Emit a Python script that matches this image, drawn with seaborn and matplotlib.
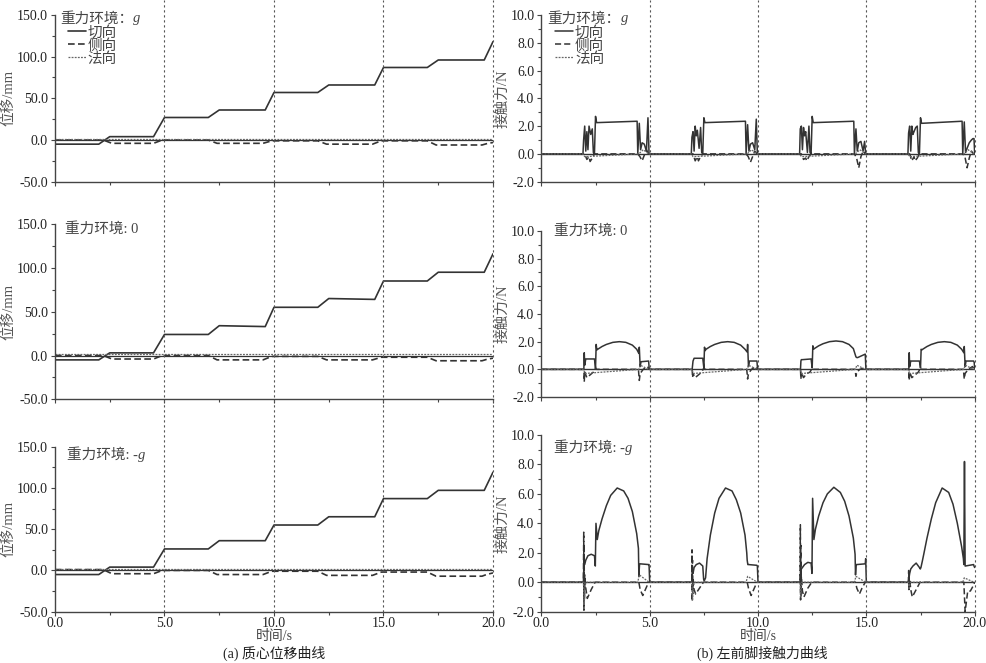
import matplotlib
matplotlib.use("Agg")
import matplotlib.pyplot as plt
import matplotlib.transforms as mtransforms
from matplotlib.lines import Line2D
from matplotlib.ticker import MultipleLocator, FormatStrFormatter
import pandas as pd
import seaborn as sns

# ---------------- DATA ----------------
# left column: centre-of-mass displacement (mm)
disp_t = [0, 2.0, 2.5, 4.5, 5.0, 7.0, 7.5, 9.6, 10.0, 12.0, 12.5, 14.6, 15.0, 17.0, 17.5, 19.6, 20.0]
tan_g = [-5, -5, 4, 4, 27, 27, 36, 36, 57, 57, 66, 66, 87, 87, 96, 96, 118]
tan_0 = [-5, -5, 3, 3, 24, 24, 34, 33, 55, 55, 65, 64, 85, 85, 95, 95, 116]
tan_mg = [-5, -5, 4, 4, 26, 26, 36, 36, 55, 55, 65, 65, 87, 87, 97, 97, 119]

side_t = [0, 2.2, 2.6, 4.5, 4.7, 4.9, 7.0, 7.2, 7.4, 9.5, 9.7, 9.9, 12.0, 12.2, 12.4,
          14.5, 14.7, 14.9, 17.0, 17.2, 17.4, 19.5, 19.7, 20.0]
side_g = [0, 0, -4, -4, -2, 0, 0, -2, -4, -4, -2.5, -1, -1, -3, -5, -5, -3, -1, -1, -3.5, -6, -6, -4.5, -3]
side_0 = [0, 0, -4, -4, -2, 0, 0, -2.5, -5, -5, -3, -1, -1, -3, -5, -5, -3.5, -2, -2, -4, -6, -6, -4.5, -3]
side_mg = [1, 1, -4, -4, -2, 0, 0, -2.5, -5, -5, -3, -1, -1, -3.5, -6, -6, -4, -2, -2, -4.5, -7, -7, -5, -3]

norm_t = [0, 20]
norm_v = [1.5, 1.5]

# right column: left fore-foot contact force (N), one list per gait cycle
cycle_start = [0, 5, 10, 15]

# gravity g
fg_tan_off = [1.92, 1.95, 2.00, 2.05, 2.10, 2.15, 2.20, 2.28, 2.35, 2.40, 2.45, 2.50, 2.55,
              4.42, 4.45, 4.52, 4.58, 4.65, 4.75, 4.85, 4.92, 4.97]
fg_tan = [
    [0, 1.0, 2.0, 0.2, 1.6, 0.3, 2.0, 1.4, 1.8, 0.1, 0.0, 2.7, 2.25, 2.35, 0.0, 2.2, 0.3, 0.8, 0.7, 0.2, 2.6, 0.0],
    [0, 1.2, 1.6, 0.2, 2.0, 1.3, 1.7, 0.4, 1.9, 0.1, 0.0, 2.6, 2.25, 2.35, 0.0, 2.1, 0.2, 0.7, 0.8, 0.3, 2.5, 0.0],
    [0, 1.8, 2.0, 0.3, 1.9, 1.3, 1.6, 0.1, 2.0, 0.1, 0.0, 2.7, 2.25, 2.35, 0.0, 1.8, 0.2, 0.8, 0.9, 0.2, 0.9, 0.0],
    [0, 1.5, 2.0, 0.2, 2.0, 1.4, 1.6, 1.9, 2.0, 0.1, 0.0, 2.6, 2.2, 2.35, 0.0, 2.3, 0.1, 0.4, 0.8, 1.0, 1.1, 1.1],
]
fg_side_off = [1.92, 2.00, 2.10, 2.20, 2.25, 2.35, 2.45, 4.45, 4.55, 4.65, 4.75, 4.85, 4.95]
fg_side = [
    [0, 0, -0.4, -0.2, -0.55, -0.3, 0, 0, -0.2, -0.5, -0.1, 0.3, 0],
    [0, 0, -0.5, -0.2, -0.5, -0.2, 0, 0, -0.2, -0.6, -0.2, 0.2, 0],
    [0, 0, -0.4, -0.3, -0.5, -0.2, 0, 0, -0.3, -1.0, -0.2, 0.2, 0],
    [0, 0, -0.5, -0.2, -0.5, -0.3, 0, 0, -0.2, -1.0, -0.3, 0.2, 0],
]
fg_norm_off = [1.92, 2.00, 4.50, 4.70, 4.95]
fg_norm = [[0, -0.2, 0, 0.3, 0]] * 4

# gravity 0
f0_tan_off = [1.96, 1.98, 2.00, 2.05, 2.45, 2.50, 2.53, 2.56, 2.60, 2.80, 3.00, 3.30, 3.60, 3.90,
              4.20, 4.40, 4.50, 4.52, 4.56, 4.60, 4.95, 4.98]
f0_tan = [
    [0, 1.2, 0.3, 0.75, 0.75, 0.1, 1.8, 1.4, 1.45, 1.65, 1.8, 1.95, 2.0, 1.95, 1.75, 1.45, 1.15, 1.6, 0.2, 0.55, 0.6, 0],
    [0, 0.3, 0.6, 0.8, 0.8, 0.1, 1.6, 1.35, 1.45, 1.65, 1.8, 1.95, 2.0, 1.95, 1.75, 1.45, 1.25, 1.8, 0.2, 0.6, 0.6, 0],
    [0, 0.6, 0.7, 0.7, 0.75, 0.1, 1.7, 1.45, 1.5, 1.7, 1.85, 2.0, 2.05, 2.0, 1.8, 1.5, 1.0, 0.9, 0.85, 0.85, 1.1, 0],
    [0, 1.2, 0.2, 0.6, 0.6, 0.1, 1.45, 1.4, 1.45, 1.65, 1.8, 1.95, 2.0, 1.95, 1.75, 1.45, 1.2, 1.65, 0.2, 0.6, 0.6, 0.5],
]
f0_side_off = [1.96, 1.98, 2.00, 2.10, 2.25, 2.40, 2.50, 2.55, 4.48, 4.52, 4.56, 4.70, 4.90, 4.98]
f0_side = [
    [0, -0.9, -0.2, -0.6, -0.4, -0.2, 0.1, 0, 0, -0.8, -0.3, 0.0, 0.2, 0],
    [0, -0.6, -0.3, -0.6, -0.4, -0.2, 0.1, 0, 0, -0.7, -0.3, 0.0, 0.2, 0],
    [0, -0.7, -0.2, -0.6, -0.3, -0.2, 0.1, 0, 0, -0.5, -0.2, 0.0, 0.1, 0],
    [0, -0.8, -0.2, -0.6, -0.4, -0.2, 0.1, 0, 0, -0.7, -0.3, 0.0, 0.2, 0],
]
f0_norm_off = [1.96, 2.00, 4.50, 4.56, 4.95]
f0_norm = [[0, -0.3, 0, 0.3, 0]] * 4

# gravity -g
fm_tan_off = [1.94, 1.97, 2.00, 2.05, 2.15, 2.30, 2.45, 2.49, 2.52, 2.58, 2.65, 2.80, 3.00, 3.20,
              3.50, 3.80, 4.00, 4.20, 4.40, 4.48, 4.50, 4.53, 4.56, 4.95, 4.97, 5.00]
fm_tan = [
    [0, 1.6, 1.2, 1.5, 1.8, 1.9, 1.8, 1.1, 4.0, 2.9, 3.5, 4.3, 5.2, 5.9, 6.4, 6.2, 5.7, 4.8, 3.3, 2.3, 0.4, 1.2, 1.25, 1.2, 1.2, 0],
    [0, 0.8, 0.6, 1.0, 1.2, 1.3, 1.1, 0.2, 0.1, 0.3, 1.6, 3.2, 4.7, 5.7, 6.4, 6.2, 5.6, 4.7, 3.2, 2.0, 1.5, 1.2, 1.2, 1.15, 1.1, 0],
    [0, 0.5, 0.9, 1.0, 1.2, 1.35, 1.3, 0.6, 5.7, 2.9, 3.6, 4.5, 5.4, 6.0, 6.45, 6.1, 5.5, 4.5, 3.0, 1.9, 0.5, 1.2, 1.2, 1.25, 1.6, 0],
    [0, 0.3, 0.6, 0.9, 1.1, 1.3, 1.0, 0.9, 1.0, 1.4, 1.9, 3.0, 4.3, 5.4, 6.4, 6.1, 5.3, 4.0, 2.4, 1.6, 1.2, 8.2, 1.1, 1.2, 1.1, 1.0],
]
fm_side_off = [1.94, 1.955, 1.965, 1.975, 1.985, 2.00, 2.05, 2.12, 2.30, 2.48, 2.50,
               4.50, 4.56, 4.68, 4.80, 4.95, 5.00]
fm_side = [
    [0, 3.4, -1.9, 2.6, -1.2, 0.5, -0.4, -1.1, -0.5, 0.0, 0, 0, -0.5, -0.9, -0.5, 0, 0],
    [0, 2.2, -1.3, 1.5, -0.8, 0.3, -0.5, -0.8, -0.4, 0.0, 0, 0, -0.4, -0.9, -0.5, 0, 0],
    [0, 3.9, -1.2, 2.5, -0.9, 0.4, -0.6, -1.0, -0.4, 0.0, 0, 0, -0.4, -0.8, -0.4, 0, 0],
    [0, 0.8, -0.5, 0.6, -0.4, 0.2, -0.5, -1.0, -0.5, 0.0, 0, 0, -2.0, -0.6, -0.6, -0.2, 0],
]
fm_norm_off = [1.94, 1.98, 2.02, 4.45, 4.52, 4.97]
fm_norm = [
    [0, -1.5, 0, 0, 0.5, 0],
    [0, -1.2, 0, 0, 0.4, 0],
    [0, -1.0, 0, 0, 0.4, 0],
    [0, -0.5, 0, 0, 0.3, 0],
]

# (plain part, italic part) of each row's gravity caption
row_titles = [("重力环境：", "g"), ("重力环境: 0", ""), ("重力环境: -", "g")]
series_names = ["切向", "侧向", "法向"]


def build(offsets, cycles):
    t, v = [0.0], [0.0]
    for s, vals in zip(cycle_start, cycles):
        t += [s + o for o in offsets]
        v += list(vals)
    if t[-1] < 20:
        t.append(20.0)
        v.append(0.0)
    return pd.DataFrame({"t": t, "v": v})


# ---------------- STYLE ----------------
sns.set_theme(style="white")
plt.rcParams["font.family"] = ["Liberation Serif", "Noto Sans CJK SC", "DejaVu Sans"]
plt.rcParams["axes.unicode_minus"] = False

LC = "#333333"
TC = "#444444"
DASH = (0, (4, 2))
DOT = (0, (1.5, 1))

fig = plt.figure(figsize=(9.87, 6.63), dpi=100)

left_pos = [[0.0557, 0.726, 0.4438, 0.2514], [0.0557, 0.3977, 0.4438, 0.2644], [0.0557, 0.0774, 0.4438, 0.2490]]
right_pos = [[0.5485, 0.726, 0.4390, 0.2514], [0.5485, 0.4012, 0.4390, 0.2504], [0.5485, 0.0774, 0.4390, 0.2665]]

# caption placement per row: (x, baseline y) in axes fraction
left_cap = [(0.012, 0.955), (0.023, 0.948), (0.027, 0.925)]
right_cap = [(0.014, 0.955), (0.03, 0.975), (0.03, 0.905)]

disp_data = [(tan_g, side_g), (tan_0, side_0), (tan_mg, side_mg)]
force_data = [
    (build(fg_tan_off, fg_tan), build(fg_side_off, fg_side), build(fg_norm_off, fg_norm)),
    (build(f0_tan_off, f0_tan), build(f0_side_off, f0_side), build(f0_norm_off, f0_norm)),
    (build(fm_tan_off, fm_tan), build(fm_side_off, fm_side), build(fm_norm_off, fm_norm)),
]


def style_axes(ax, ymin, ymax, ymaj, show_x):
    ax.set_xlim(0, 20)
    ax.set_ylim(ymin, ymax)
    ax.xaxis.set_major_locator(MultipleLocator(5))
    ax.xaxis.set_minor_locator(MultipleLocator(2.5))
    ax.yaxis.set_major_locator(MultipleLocator(ymaj))
    ax.yaxis.set_minor_locator(MultipleLocator(ymaj / 2))
    ax.xaxis.set_major_formatter(FormatStrFormatter("%.1f"))
    ax.yaxis.set_major_formatter(FormatStrFormatter("%.1f"))
    for s in ["top", "right"]:
        ax.spines[s].set_visible(False)
    for s in ["left", "bottom"]:
        ax.spines[s].set_color(TC)
        ax.spines[s].set_linewidth(1.0)
    ax.tick_params(which="both", direction="out", color=TC, width=0.8,
                   labelsize=10, labelcolor="#222222", pad=2, left=True, bottom=True)
    ax.tick_params(axis="x", pad=1)
    ax.tick_params(which="major", length=3)
    ax.tick_params(which="minor", length=2.5)
    if not show_x:
        ax.tick_params(labelbottom=False)
    ax.set_xlabel("")
    ax.set_ylabel("")
    ax.grid(False)


def caption(ax, xy, parts):
    plain, ital = parts
    txt = ax.text(xy[0], xy[1], plain, transform=ax.transAxes, ha="left", va="baseline",
                  fontsize=10.5, color=TC)
    if ital:
        ax.annotate(ital, xy=(1, xy[1]), xycoords=(txt, "axes fraction"), ha="left", va="baseline",
                    fontsize=10.5, color=TC, fontstyle="italic", family="Liberation Serif")


axes_left, axes_right = [], []
for i in range(3):
    # displacement
    ax = fig.add_axes(left_pos[i])
    tan, side = disp_data[i]
    ax.axhline(0, color=LC, lw=0.9)
    sns.lineplot(x=disp_t, y=tan, ax=ax, color=LC, estimator=None, sort=False, label="切向", lw=1.2, ls="-")
    sns.lineplot(x=side_t, y=side, ax=ax, color=LC, estimator=None, sort=False, label="侧向", lw=1.2, ls=DASH)
    sns.lineplot(x=norm_t, y=norm_v, ax=ax, color="#666666", estimator=None, sort=False, label="法向", lw=0.9, ls=DOT)
    style_axes(ax, -50, 150, 50, i == 2)
    ax.set_ylabel("位移/mm", fontsize=10.5, color="#555555")
    ax.yaxis.set_label_coords(-0.09, 0.5)
    axes_left.append(ax)

    # contact force
    ax2 = fig.add_axes(right_pos[i])
    dtan, dside, dnorm = force_data[i]
    ax2.axhline(0, color=LC, lw=1.0)
    sns.lineplot(data=dtan, x="t", y="v", ax=ax2, color=LC, estimator=None, sort=False, label="切向", lw=1.1, ls="-")
    sns.lineplot(data=dside, x="t", y="v", ax=ax2, color=LC, estimator=None, sort=False, label="侧向", lw=1.1, ls=DASH)
    sns.lineplot(data=dnorm, x="t", y="v", ax=ax2, color="#666666", estimator=None, sort=False, label="法向", lw=0.9, ls=DOT)
    style_axes(ax2, -2, 10, 2, i == 2)
    ax2.set_ylabel("接触力/N", fontsize=10.5, color="#555555")
    ax2.yaxis.set_label_coords(-0.075, 0.5)
    axes_right.append(ax2)

    for a, cxy, lx in ((ax, left_cap[i], 0.03), (ax2, right_cap[i], 0.032)):
        caption(a, cxy, row_titles[i])
        if i == 0:
            h, l = a.get_legend_handles_labels()
            leg = a.legend(h[:3], l[:3], loc="upper left", bbox_to_anchor=(lx, 0.935),
                           frameon=False, handlelength=1.2, handletextpad=0.15, labelspacing=-0.05,
                           borderpad=0, borderaxespad=0, fontsize=10.5)
            for txt in leg.get_texts():
                txt.set_color(TC)
        elif a.get_legend() is not None:
            a.get_legend().remove()

# vertical dotted markers running through each column
for ax_b in (axes_left[2], axes_right[2]):
    tr = mtransforms.blended_transform_factory(ax_b.transData, fig.transFigure)
    for xv in [5, 10, 15, 20]:
        fig.add_artist(Line2D([xv, xv], [ax_b.get_position().y0, 1.0], transform=tr,
                              color="#555555", lw=0.8, ls=(0, (2, 2.5))))

for a in (axes_left[2], axes_right[2]):
    a.set_xlabel("时间/s", fontsize=10, color=TC, va="center")
axes_left[2].xaxis.set_label_coords(0.5, -0.15)
axes_right[2].xaxis.set_label_coords(0.5, -0.14)

fig.text(0.278, 0.015, "(a) 质心位移曲线", ha="center", va="center", fontsize=10, color="#222222")
fig.text(0.772, 0.015, "(b) 左前脚接触力曲线", ha="center", va="center", fontsize=10, color="#222222")

fig.savefig("out.png", dpi=100)
